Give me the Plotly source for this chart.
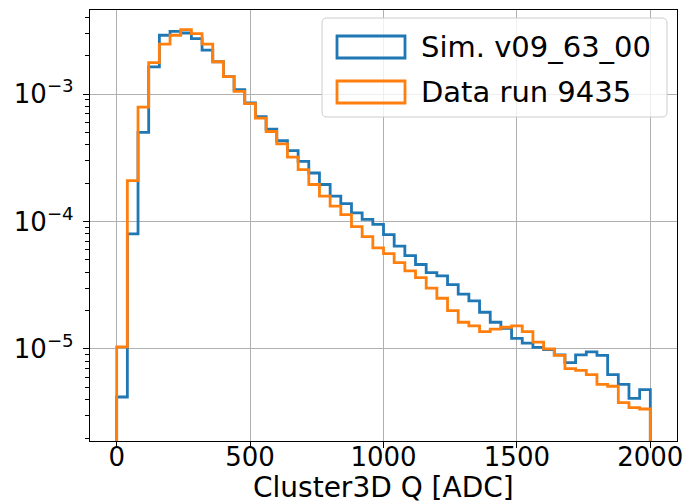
import plotly.graph_objects as go

# Histogram binning: 50 bins of 40 ADC from 0 to 2000
bin_edges = [40 * i for i in range(51)]

# Normalised bin contents (density) per bin
sim_v09_63_00 = [
    4.2e-6, 8.0e-5, 5.0e-4, 1.63e-3, 2.89e-3, 3.10e-3, 3.01e-3, 2.72e-3, 2.21e-3, 1.79e-3,
    1.37e-3, 1.08e-3, 8.5e-4, 6.65e-4, 5.3e-4, 4.3e-4, 3.59e-4, 2.96e-4, 2.4e-4, 1.95e-4,
    1.58e-4, 1.38e-4, 1.17e-4, 1.04e-4, 9.5e-5, 7.9e-5, 6.4e-5, 5.4e-5, 4.6e-5, 3.97e-5,
    3.74e-5, 3.2e-5, 2.69e-5, 2.38e-5, 1.94e-5, 1.62e-5, 1.45e-5, 1.21e-5, 1.11e-5, 1.03e-5,
    9.9e-6, 9.0e-6, 7.8e-6, 9.0e-6, 9.5e-6, 8.9e-6, 6.3e-6, 5.27e-6, 4.1e-6, 4.8e-6,
]
data_run_9435 = [
    1.04e-5, 2.09e-4, 7.9e-4, 1.76e-3, 2.46e-3, 2.89e-3, 3.2e-3, 2.98e-3, 2.46e-3, 1.79e-3,
    1.37e-3, 1.05e-3, 8.4e-4, 6.46e-4, 5.08e-4, 4.07e-4, 3.2e-4, 2.55e-4, 1.95e-4, 1.58e-4,
    1.32e-4, 1.13e-4, 9.1e-5, 7.6e-5, 6.2e-5, 5.6e-5, 4.75e-5, 4.1e-5, 3.63e-5, 3.0e-5,
    2.5e-5, 2.0e-5, 1.62e-5, 1.52e-5, 1.37e-5, 1.43e-5, 1.48e-5, 1.52e-5, 1.37e-5, 1.13e-5,
    1.0e-5, 8.9e-6, 7.0e-6, 6.8e-6, 6.3e-6, 5.27e-6, 5.1e-6, 3.8e-6, 3.47e-6, 3.38e-6,
]

series_names = ["Sim. v09_63_00", "Data run 9435"]
series_colors = ["#1f77b4", "#ff7f0e"]

x_ticks = [0, 500, 1000, 1500, 2000]
y_ticks = [1e-5, 1e-4, 1e-3]
y_ticktext = ["10<sup>\u22125</sup>", "10<sup>\u22124</sup>", "10<sup>\u22123</sup>"]
x_title = "Cluster3D Q [ADC]"

FONT = "DejaVu Sans"
TICK_FS = 26
TEXT_FS = 28
LEGEND_FS = 29
FLOOR = 1e-8  # step outline drops below the visible range at both ends

W, H = 689, 504
ML, MR, MT, MB = 90, 12, 10, 63


def step_outline(edges, values):
    xs = [edges[0]] + list(edges[:-1]) + [edges[-1]]
    ys = [FLOOR] + list(values) + [FLOOR]
    return xs, ys


fig = go.Figure()
for vals, name, color in zip([sim_v09_63_00, data_run_9435], series_names, series_colors):
    xs, ys = step_outline(bin_edges, vals)
    fig.add_trace(go.Scatter(
        x=xs, y=ys, mode="lines", name=name,
        line=dict(color=color, width=2.8, shape="hv"),
        showlegend=False, hoverinfo="skip",
    ))

minor_vals = [k * 10.0 ** n for n in range(-7, -1) for k in range(2, 10)]

fig.update_layout(
    width=W, height=H,
    margin=dict(l=ML, r=MR, t=MT, b=MB, pad=0),
    paper_bgcolor="white", plot_bgcolor="white",
    font=dict(family=FONT, size=TICK_FS, color="black"),
    xaxis=dict(
        range=[-100, 2100], tickvals=x_ticks, ticks="outside", ticklen=6, tickwidth=1.2,
        tickcolor="black", showline=True, mirror=True, linecolor="black", linewidth=1.2,
        showgrid=True, gridcolor="#b0b0b0", gridwidth=1, zeroline=False, automargin=False,
        tickfont=dict(size=TICK_FS), ticklabelstandoff=-13,
    ),
    yaxis=dict(
        type="log", range=[-5.722, -2.341], tickvals=y_ticks, ticktext=y_ticktext,
        ticks="outside", ticklen=6, tickwidth=1.2, tickcolor="black",
        showline=True, mirror=True, linecolor="black", linewidth=1.2,
        showgrid=True, gridcolor="#b0b0b0", gridwidth=1, zeroline=False, automargin=False,
        tickfont=dict(size=TICK_FS), ticklabelstandoff=4,
        minor=dict(tickvals=minor_vals, ticks="outside", ticklen=3.5, tickwidth=0.9,
                   tickcolor="black", showgrid=False),
    ),
)

# Legend and axis title placed in pixel space of the plotting area
PW, PH = W - ML - MR, H - MT - MB


def px(x):
    return (x - ML) / PW


def py(y):
    return (H - MB - y) / PH


def rounded_rect(x0, y0, x1, y1, r):
    a, b, c, d = px(x0), py(y0), px(x1), py(y1)
    rx, ry = r / PW, r / PH
    return (f"M {a + rx},{b} L {c - rx},{b} Q {c},{b} {c},{b - ry} "
            f"L {c},{d + ry} Q {c},{d} {c - rx},{d} L {a + rx},{d} "
            f"Q {a},{d} {a},{d + ry} L {a},{b - ry} Q {a},{b} {a + rx},{b} Z")


fig.add_annotation(x=px(384), y=py(487), xref="paper", yref="paper", text=x_title,
                   showarrow=False, xanchor="center", yanchor="middle", borderpad=0,
                   font=dict(family=FONT, size=TEXT_FS, color="black"))

fig.add_shape(type="path", xref="paper", yref="paper",
              path=rounded_rect(322, 18, 667, 117, 5),
              fillcolor="rgba(255,255,255,0.8)", line=dict(color="#cccccc", width=1),
              layer="above")

for i, (name, color) in enumerate(zip(series_names, series_colors)):
    cy = 47 + 45 * i
    fig.add_shape(type="rect", xref="paper", yref="paper",
                  x0=px(337), x1=px(405), y0=py(cy - 11), y1=py(cy + 11),
                  line=dict(color=color, width=2.8), fillcolor="rgba(0,0,0,0)",
                  layer="above")
    fig.add_annotation(x=px(419), y=py(cy), xref="paper", yref="paper",
                       text=name, showarrow=False, xanchor="left", yanchor="middle",
                       font=dict(family=FONT, size=LEGEND_FS, color="black"))

fig.write_html("out.html")
